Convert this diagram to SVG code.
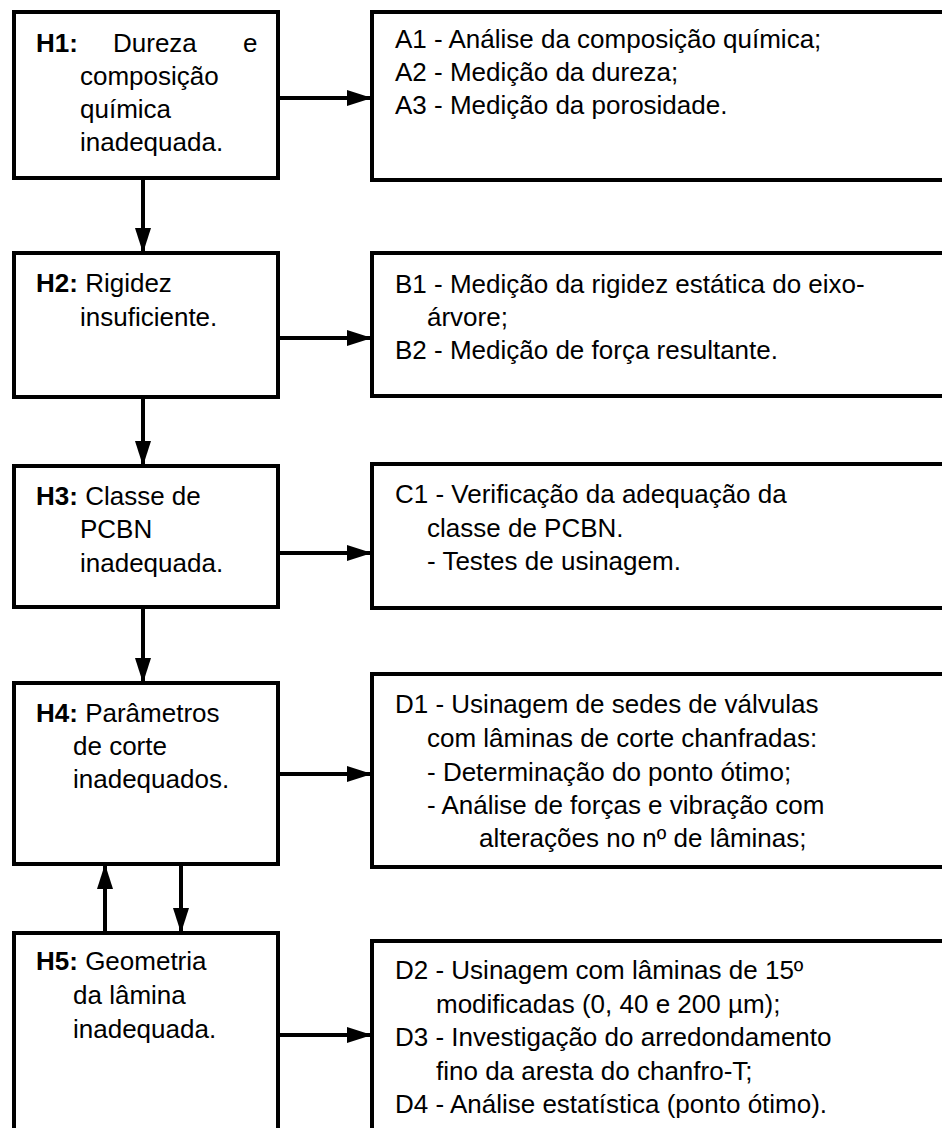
<svg xmlns="http://www.w3.org/2000/svg" width="942" height="1128" viewBox="0 0 942 1128">
<style>
.box{fill:#fff;stroke:#000;stroke-width:4}
.t{font-family:"Liberation Sans",Arial,sans-serif;font-size:26px;fill:#000}
.b{font-weight:bold}
.c{stroke:#000;stroke-width:4;fill:none;marker-end:url(#ah)}
</style>
<defs>
<marker id="ah" markerUnits="userSpaceOnUse" markerWidth="26" markerHeight="16" refX="25" refY="8" orient="auto">
<path d="M0,0 L25,8 L0,16 z" fill="#000"/>
</marker>
</defs>
<rect width="942" height="1128" fill="#fff"/>
<g id="connectors">
<line class="c" x1="278" y1="98" x2="372" y2="98"/>
<line class="c" x1="143" y1="178" x2="143" y2="253"/>
<line class="c" x1="278" y1="338" x2="372" y2="338"/>
<line class="c" x1="143" y1="397" x2="143" y2="466"/>
<line class="c" x1="278" y1="553" x2="372" y2="553"/>
<line class="c" x1="143" y1="607" x2="143" y2="683"/>
<line class="c" x1="278" y1="774" x2="372" y2="774"/>
<line class="c" x1="105" y1="933" x2="105" y2="864"/>
<line class="c" x1="181" y1="864" x2="181" y2="933"/>
<line class="c" x1="278" y1="1035" x2="372" y2="1035"/>
</g>
<g id="H1">
<rect class="box" x="14" y="12" width="264" height="166"/>
<text class="t" x="36" y="52"><tspan class="b">H1:</tspan></text>
<text class="t" x="113" y="52">Dureza</text>
<text class="t" x="243" y="52">e</text>
<text class="t" x="80" y="85">composição</text>
<text class="t" x="80" y="118">química</text>
<text class="t" x="80" y="151">inadequada.</text>
</g>
<g id="A">
<rect class="box" x="372" y="12" width="600" height="168"/>
<text class="t" x="395" y="48">A1 - Análise da composição química;</text>
<text class="t" x="395" y="81">A2 - Medição da dureza;</text>
<text class="t" x="395" y="114">A3 - Medição da porosidade.</text>
</g>
<g id="H2">
<rect class="box" x="14" y="253" width="264" height="144"/>
<text class="t" x="36" y="292"><tspan class="b">H2:</tspan> Rigidez</text>
<text class="t" x="80" y="326">insuficiente.</text>
</g>
<g id="B">
<rect class="box" x="372" y="253" width="600" height="143"/>
<text class="t" x="395" y="293">B1 - Medição da rigidez estática do eixo-</text>
<text class="t" x="427" y="326">árvore;</text>
<text class="t" x="395" y="359">B2 - Medição de força resultante.</text>
</g>
<g id="H3">
<rect class="box" x="14" y="466" width="264" height="141"/>
<text class="t" x="36" y="505"><tspan class="b">H3:</tspan> Classe de</text>
<text class="t" x="80" y="538">PCBN</text>
<text class="t" x="80" y="572">inadequada.</text>
</g>
<g id="C">
<rect class="box" x="372" y="464" width="600" height="144"/>
<text class="t" x="395" y="503">C1 - Verificação da adequação da</text>
<text class="t" x="427" y="537">classe de PCBN.</text>
<text class="t" x="427" y="570">- Testes de usinagem.</text>
</g>
<g id="H4">
<rect class="box" x="14" y="683" width="264" height="181"/>
<text class="t" x="36" y="722"><tspan class="b">H4:</tspan> Parâmetros</text>
<text class="t" x="73" y="755">de corte</text>
<text class="t" x="73" y="788">inadequados.</text>
</g>
<g id="D1">
<rect class="box" x="372" y="674" width="600" height="193"/>
<text class="t" x="395" y="713">D1 - Usinagem de sedes de válvulas</text>
<text class="t" x="427" y="747">com lâminas de corte chanfradas:</text>
<text class="t" x="427" y="781">- Determinação do ponto ótimo;</text>
<text class="t" x="427" y="814">- Análise de forças e vibração com</text>
<text class="t" x="479" y="847">alterações no nº de lâminas;</text>
</g>
<g id="H5">
<rect class="box" x="14" y="933" width="264" height="220"/>
<text class="t" x="36" y="970"><tspan class="b">H5:</tspan> Geometria</text>
<text class="t" x="73" y="1004">da lâmina</text>
<text class="t" x="73" y="1038">inadequada.</text>
</g>
<g id="D2">
<rect class="box" x="372" y="941" width="600" height="220"/>
<text class="t" x="395" y="979">D2 - Usinagem com lâminas de 15º</text>
<text class="t" x="436" y="1013">modificadas (0, 40 e 200 µm);</text>
<text class="t" x="395" y="1046">D3 - Investigação do arredondamento</text>
<text class="t" x="436" y="1080">fino da aresta do chanfro-T;</text>
<text class="t" x="395" y="1113">D4 - Análise estatística (ponto ótimo).</text>
</g>
</svg>
